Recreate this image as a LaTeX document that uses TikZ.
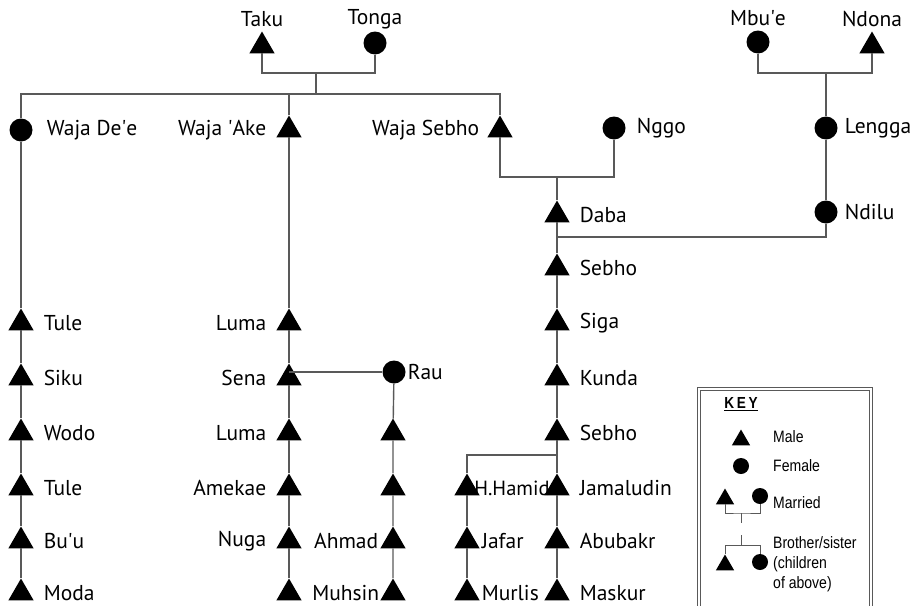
\documentclass[tikz,border=0pt]{standalone}
\usepackage{fontspec}
\setmainfont{PT Sans}
\newfontfamily\keyfont[FakeStretch=0.85]{Liberation Sans}
\usetikzlibrary{shapes.geometric}
\newcommand{\apos}{\textquotesingle}
\tikzset{
	male/.style={%
		regular polygon, regular polygon sides=3,
		fill=black, inner sep=0pt,
		minimum size=#1
	},
	male/.default=29pt,
	female/.style={%
		circle, fill=black, inner sep=0pt,
		minimum size=#1
	},
	female/.default=23pt,
	line/.style={draw=black!65, line width=1.4pt},
	keytext/.style={anchor=west, inner sep=0pt, font=\keyfont\fontsize{16.5}{20}\selectfont},
	every label/.style={inner sep=0pt, font=\fontsize{21.5}{26}\selectfont}
}

\begin{document}
\begin{tikzpicture}[x=1pt, y=-1pt, label distance=14pt]
		\useasboundingbox (0,0) rectangle (917,605);

		% grandparents
		\node[male] (taku) at (262,46) [label={[label distance=4pt]above:Taku}] {};
		\node[female] (tonga) at (375,43) [label={[label distance=2pt]above:Tonga}] {};
		\node[female] (mbue) at (758,42) [label={[label distance=4pt]above:Mbu\apos e}] {};
		\node[male] (ndona) at (872,46) [label={[label distance=4pt]above:Ndona}] {};

		% first row
		\node[female] (wajadee) at (21,130) [label=right:Waja De\apos e] {};
		\node[male] (wajaake) at (289,130) [label=left:Waja \apos Ake] {};
		\node[male] (wajasebho) at (500,130) [label={[label distance=12pt]left:Waja Sebho}] {};
		\node[female] (nggo) at (614,128) [label={[label distance=11pt]right:Nggo}] {};
		\node[female] (lengga) at (826,128) [label={[label distance=7pt]right:Lengga}] {};

		\node[male] (daba) at (557,215) [label=right:Daba] {};
		\node[female] (ndilu) at (826,212) [label={[label distance=7pt]right:Ndilu}] {};

		% Waja De'e line
		\node[male] (tuleA) at (21,323) [label=right:Tule] {};
		\node[male] (siku) at (21,378) [label=right:Siku] {};
		\node[male] (wodo) at (21,433) [label=right:Wodo] {};
		\node[male] (tuleB) at (21,488) [label=right:Tule] {};
		\node[male] (buu) at (21,541) [label=right:Bu\apos u] {};
		\node[male] (moda) at (21,593) [label=right:Moda] {};

		% Waja 'Ake line
		\node[male] (lumaA) at (289,323) [label=left:Luma] {};
		\node[male] (sena) at (289,378) [label=left:Sena] {};
		\node[male] (lumaB) at (289,433) [label=left:Luma] {};
		\node[male] (amekae) at (289,488) [label=left:Amekae] {};
		\node[male] (nuga) at (289,541) [label=left:Nuga] {};
		\node[male] (nugason) at (289,593) {};

		\node[female] (rau) at (394,372) [label={[label distance=2pt]right:Rau}] {};
		\node[male] (rauA) at (393,433) {};
		\node[male] (rauB) at (393,488) {};
		\node[male] (ahmad) at (393,541) [label={[label distance=6pt]left:Ahmad}] {};
		\node[male] (muhsin) at (393,593) [label={[label distance=5pt]left:Muhsin}] {};

		% Waja Sebho line
		\node[male] (sebhoA) at (557,268) [label=right:Sebho] {};
		\node[male] (siga) at (557,323) [label=right:Siga] {};
		\node[male] (kunda) at (557,378) [label=right:Kunda] {};
		\node[male] (sebhoB) at (557,433) [label=right:Sebho] {};
		\node[male] (jamaludin) at (557,488) [label=right:Jamaludin] {};
		\node[male] (abubakr) at (557,541) [label=right:Abubakr] {};
		\node[male] (maskur) at (557,593) [label=right:Maskur] {};

		\node[male] (hhamid) at (467,488) [label={[label distance=-1.5pt, font=\fontsize{20.5}{24}\selectfont]right:H.Hamid}] {};
		\node[male] (jafar) at (467,541) [label={[label distance=6pt]right:Jafar}] {};
		\node[male] (murlis) at (467,593) [label={[label distance=6pt]right:Murlis}] {};

		% junctions
		\coordinate (tjoin) at (316,73);
		\coordinate (sibs) at (316,94);
		\coordinate (mjoin) at (826,73);
		\coordinate (sjoin) at (557,177);
		\coordinate (djoin) at (557,237);
		\coordinate (hjoin) at (557,455);

		%lines between people
		\draw[line] (taku) |- (tjoin) -| (tonga);
		\draw[line] (tjoin) -- (sibs);
		\draw[line] (wajadee) |- (sibs) -| (wajasebho);
		\draw[line] (wajaake) -- (wajaake |- sibs);

		\draw[line] (mbue) |- (mjoin) -| (ndona);
		\draw[line] (mjoin) -- (lengga) -- (ndilu);
		\draw[line] (ndilu) |- (djoin);

		\draw[line] (wajadee) -- (tuleA) -- (siku) -- (wodo) -- (tuleB) -- (buu) -- (moda);
		\draw[line] (wajaake) -- (lumaA) -- (sena) -- (lumaB) -- (amekae) -- (nuga) -- (nugason);
		\draw[line] (rau) -- (rau -| sena);
		\draw[line] (rau) -- (rauA) -- (rauB) -- (ahmad) -- (muhsin);

		\draw[line] (wajasebho) |- (sjoin) -| (nggo);
		\draw[line] (sjoin) -- (daba) -- (sebhoA) -- (siga) -- (kunda) -- (sebhoB) -- (jamaludin) -- (abubakr) -- (maskur);
		\draw[line] (hjoin) -| (hhamid);
		\draw[line] (hhamid) -- (jafar) -- (murlis);

		% key box
		\draw[black!65, line width=0.8pt, double, double distance=2pt] (699,606) |- (871,389) -- (871,606);
		\node[inner sep=0pt, font=\keyfont\bfseries\fontsize{16}{18}\selectfont] (keytitle) at (741,404) {\underline{K\,E\,Y}};
		\node[male=21pt] (keymale) at (741,440) {};
		\node[keytext] (keymaletext) at (773,437) {Male};
		\node[female=16pt] (keyfemale) at (741,466) {};
		\node[keytext] (keyfemaletext) at (773,466) {Female};

		\node[male=21pt] (keyhusband) at (725,499) {};
		\node[female=16pt] (keywife) at (760,496) {};
		\node[keytext] (keymarriedtext) at (773,503) {Married};
		\coordinate (kmjoin) at (741,513);
		\coordinate (kmstub) at (741,523);
		\draw[line, line width=0.9pt] (keyhusband) |- (kmjoin) -| (keywife);
		\draw[line, line width=0.9pt] (kmjoin) -- (kmstub);

		\node[male=21pt] (keybrother) at (725,565) {};
		\node[female=16pt] (keysister) at (760,562) {};
		\coordinate (kbstub) at (741,535);
		\coordinate (kbjoin) at (741,545);
		\draw[line, line width=0.9pt] (kbstub) -- (kbjoin);
		\draw[line, line width=0.9pt] (kbjoin) -| (keybrother);
		\draw[line, line width=0.9pt] (kbjoin) -| (keysister);
		\node[keytext, align=left, anchor=north west] (keysibtext) at (773,536) {Brother/sister\\(children\\of above)};

\end{tikzpicture}
\end{document}
